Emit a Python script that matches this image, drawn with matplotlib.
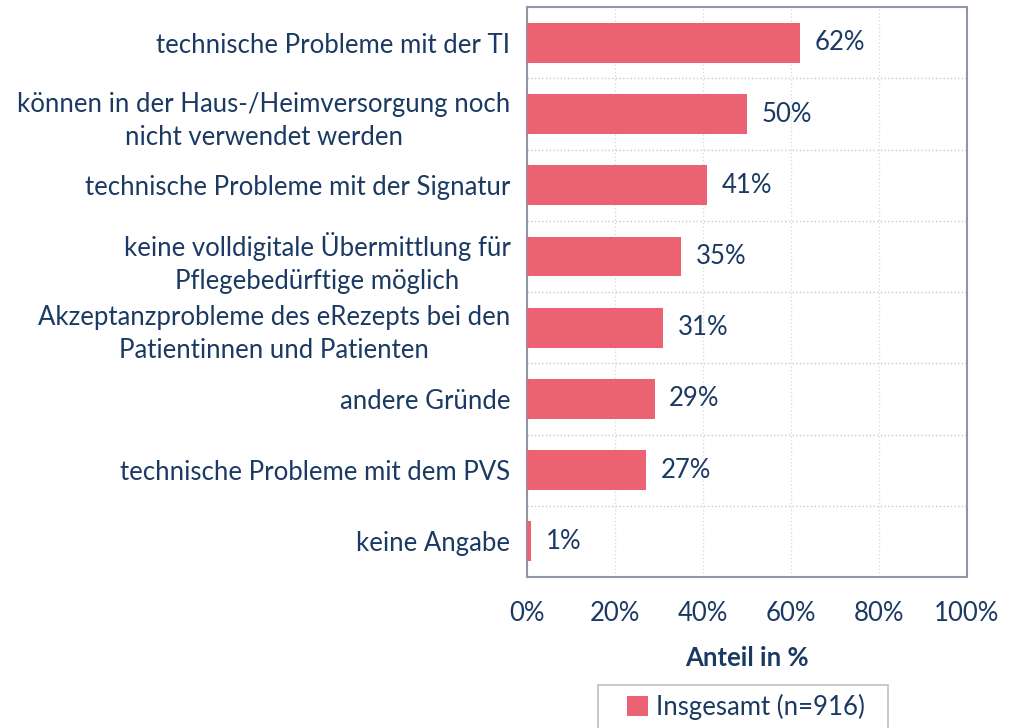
import matplotlib.pyplot as plt
from matplotlib.patches import Rectangle
from matplotlib.ticker import PercentFormatter

# Daten
kategorien = [
    "technische Probleme mit der TI",
    "können in der Haus-/Heimversorgung noch\nnicht verwendet werden",
    "technische Probleme mit der Signatur",
    "keine volldigitale Übermittlung für\nPflegebedürftige möglich",
    "Akzeptanzprobleme des eRezepts bei den\nPatientinnen und Patienten",
    "andere Gründe",
    "technische Probleme mit dem PVS",
    "keine Angabe",
]
anteile = [62, 50, 41, 35, 31, 29, 27, 1]
serie = "Insgesamt (n=916)"

farbe = "#EB6372"
text_farbe = "#1B3A63"
fs = 18.5

plt.rcParams['font.family'] = ['Lato', 'DejaVu Sans']

fig = plt.figure(figsize=(10.22, 7.28), dpi=100)
ax = fig.add_axes([0.5157, 0.2074, 0.4305, 0.7826])

y = list(range(len(kategorien)))
bars = ax.barh(y, anteile, height=0.56, color=farbe, label=serie, zorder=3)
ax.set_ylim(len(kategorien) - 0.5, -0.5)
ax.set_xlim(0, 100)

for b, v in zip(bars, anteile):
    ax.text(v + 3.3, b.get_y() + b.get_height() / 2, f"{v}%",
            va='center', ha='left', fontsize=fs, color=text_farbe)

ax.set_yticks(y)
ax.set_yticklabels(kategorien, fontsize=fs, color=text_farbe, linespacing=1.4)
ax.set_xticks(range(0, 101, 20))
ax.xaxis.set_major_formatter(PercentFormatter(decimals=0))
ax.tick_params(axis='x', labelsize=fs, labelcolor=text_farbe, length=0, pad=17)
ax.tick_params(axis='y', length=0, pad=12)
for lbl in ax.get_yticklabels():
    lbl.set_horizontalalignment('right')
    lbl.set_multialignment('center')

# Gitter
ax.set_yticks([i + 0.5 for i in range(len(kategorien) - 1)], minor=True)
ax.tick_params(axis='y', which='minor', length=0)
ax.grid(axis='y', which='minor', color='#c8c8c8', linestyle=':', lw=1, zorder=0)
ax.grid(axis='x', which='major', color='#dcdcdc', linestyle=':', lw=1, zorder=0)

for s in ax.spines.values():
    s.set_color('#8d97a8')
    s.set_linewidth(1.5)

ax.set_xlabel("Anteil in %", fontsize=fs, fontweight='bold', color=text_farbe, labelpad=15)

# Legende mit breiterem Rahmen
leg = fig.legend(loc='center', bbox_to_anchor=(0.730, 0.029), fontsize=fs,
                 frameon=False, handlelength=0.8, handleheight=0.8,
                 handletextpad=0.3, borderpad=0, borderaxespad=0)
for t in leg.get_texts():
    t.set_color(text_farbe)
fig.patches.append(Rectangle((0.585, -0.01), 0.284, 0.069, transform=fig.transFigure,
                             fill=False, edgecolor='#c0c0c0', lw=1.2))

fig.savefig("out.png", dpi=100)
